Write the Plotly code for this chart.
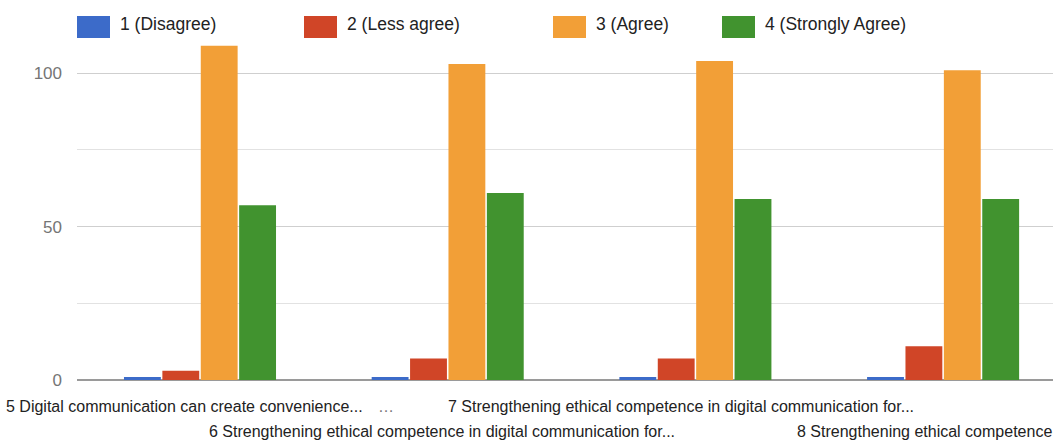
import plotly.graph_objects as go

# Survey responses per statement
categories = [
    "5 Digital communication can create convenience...",
    "6 Strengthening ethical competence in digital communication for...",
    "7 Strengthening ethical competence in digital communication for...",
    "8 Strengthening ethical competence",
]
series_names = ["1 (Disagree)", "2 (Less agree)", "3 (Agree)", "4 (Strongly Agree)"]
disagree = [1, 1, 1, 1]
less_agree = [3, 7, 7, 11]
agree = [109, 103, 104, 101]
strongly_agree = [57, 61, 59, 59]
y_ticks = [0, 50, 100]

colors = ["#3c6bc9", "#d04527", "#f29f37", "#41932f"]
series_values = [disagree, less_agree, agree, strongly_agree]

FONT = "Liberation Sans, Arial, sans-serif"
W, H = 1053, 441
ML, MB = 77, 61
plot_w = W - ML
plot_h = H - MB

fig = go.Figure()
xidx = list(range(len(categories)))
for name, vals, col in zip(series_names, series_values, colors):
    fig.add_trace(go.Bar(
        x=xidx, y=vals, name=name, marker=dict(color=col, line=dict(width=0)),
        showlegend=False,
    ))

# Legend row drawn as swatches + labels across the top
legend_left_px = [77, 304, 553, 722]
shapes = []
annotations = []
for name, col, lx in zip(series_names, colors, legend_left_px):
    shapes.append(dict(
        type="rect", xref="paper", yref="paper",
        x0=(lx - ML) / plot_w, x1=(lx + 33 - ML) / plot_w,
        y0=(plot_h - 38) / plot_h, y1=(plot_h - 16) / plot_h,
        fillcolor=col, line=dict(width=0), layer="above",
    ))
    annotations.append(dict(
        xref="paper", yref="paper",
        x=(lx + 41 - ML) / plot_w, y=(plot_h - 24) / plot_h,
        xanchor="left", yanchor="middle", showarrow=False,
        text=name, font=dict(family=FONT, size=17.5, color="#222222"),
    ))

# Category labels, staggered over two rows
label_font = dict(family=FONT, size=16, color="#222222")
row1, row2 = -26, -51
annotations += [
    dict(xref="x", yref="paper", x=0, y=0, xanchor="center", yanchor="middle",
         xshift=-16, yshift=row1, text=categories[0], showarrow=False, font=label_font),
    dict(xref="x", yref="paper", x=0, y=0, xanchor="center", yanchor="middle",
         xshift=186, yshift=row1, text="…", showarrow=False,
         font=dict(family=FONT, size=16, color="#777777")),
    dict(xref="x", yref="paper", x=2, y=0, xanchor="center", yanchor="middle",
         xshift=-14, yshift=row1, text=categories[2], showarrow=False, font=label_font),
    dict(xref="x", yref="paper", x=1, y=0, xanchor="center", yanchor="middle",
         xshift=-6, yshift=row2, text=categories[1], showarrow=False, font=label_font),
    dict(xref="x", yref="paper", x=3, y=0, xanchor="left", yanchor="middle",
         xshift=-148, yshift=row2, text=categories[3], showarrow=False, font=label_font),
]

px_per_cat = 247.7
x_lo = -(200 - ML) / px_per_cat
x_hi = x_lo + plot_w / px_per_cat
px_per_unit = 3.067

fig.update_layout(
    width=W, height=H,
    margin=dict(l=ML, r=0, t=0, b=MB, pad=0),
    paper_bgcolor="white", plot_bgcolor="white",
    barmode="group", bargap=0.38, bargroupgap=0.04,
    shapes=shapes, annotations=annotations,
    font=dict(family=FONT),
    xaxis=dict(
        range=[x_lo, x_hi], showticklabels=False, showgrid=False,
        zeroline=False, showline=False, ticks="",
    ),
    yaxis=dict(
        range=[0, plot_h / px_per_unit],
        tickmode="array", tickvals=y_ticks, ticktext=[str(v) for v in y_ticks],
        tickfont=dict(family=FONT, size=17, color="#757575"),
        ticklabelstandoff=14,
        showgrid=True, gridcolor="#cfcfcf", gridwidth=1,
        minor=dict(dtick=25, tick0=0, showgrid=True, gridcolor="#e2e2e2", gridwidth=1),
        zeroline=True, zerolinecolor="#9a9a9a", zerolinewidth=2,
        showline=False, ticks="",
    ),
)

fig.write_html("out.html")
